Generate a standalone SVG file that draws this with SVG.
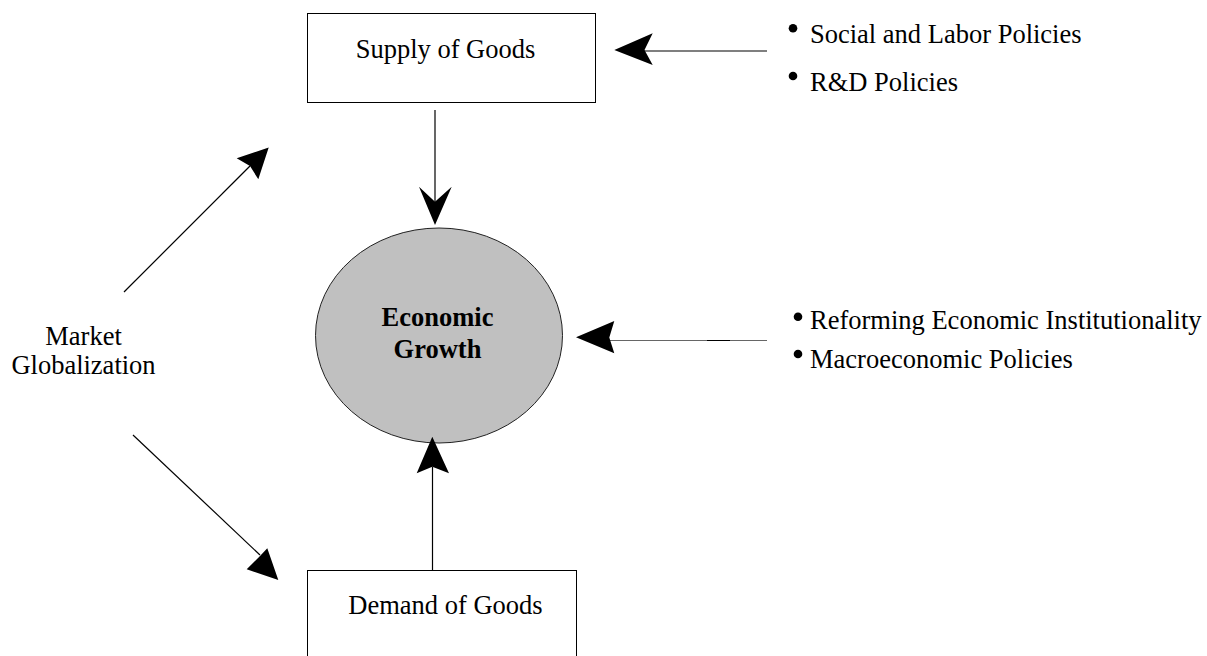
<svg xmlns="http://www.w3.org/2000/svg" width="1207" height="656" viewBox="0 0 1207 656">
<style>
.t{font-family:"Liberation Serif","Times New Roman",serif;font-size:26.5px;fill:#000}
.b{font-weight:bold}
.box{fill:#fff;stroke:#000;stroke-width:1}
.ln{stroke:#000;stroke-width:1.2;fill:none}
.hd{fill:#000;stroke:none}
</style>
<rect width="1207" height="656" fill="#fff"/>
<g id="supply">
<rect class="box" x="307.5" y="13.5" width="288" height="89"/>
<text class="t" x="445.5" y="58" text-anchor="middle">Supply of Goods</text>
</g>
<g id="demand">
<rect class="box" x="307.5" y="570.5" width="269" height="100"/>
<text class="t" x="445.5" y="614" text-anchor="middle">Demand of Goods</text>
</g>
<g id="growth">
<ellipse cx="439" cy="335.5" rx="123.5" ry="107.5" fill="#c0c0c0" stroke="#222" stroke-width="1"/>
<text class="t b" x="437.5" y="326" text-anchor="middle">Economic</text>
<text class="t b" x="437.5" y="357.5" text-anchor="middle">Growth</text>
</g>
<g id="market">
<text class="t" x="83.5" y="345" text-anchor="middle">Market</text>
<text class="t" x="83.5" y="373.5" text-anchor="middle">Globalization</text>
</g>
<g id="policies-top">
<circle cx="793" cy="28.3" r="4.3"/>
<text class="t" x="810" y="43.3">Social and Labor Policies</text>
<circle cx="793" cy="76" r="4.3"/>
<text class="t" x="810" y="90.7">R&amp;D Policies</text>
</g>
<g id="policies-mid">
<circle cx="798" cy="316.7" r="4.3"/>
<text class="t" x="810" y="329.3">Reforming Economic Institutionality</text>
<circle cx="798" cy="354" r="4.3"/>
<text class="t" x="810" y="368.3">Macroeconomic Policies</text>
</g>
<g id="connectors">
<line class="ln" x1="435" y1="110" x2="435" y2="202"/>
<polygon class="hd" points="435,225 419,186.7 435,201.7 451.7,186.7"/>
<line class="ln" x1="432.5" y1="570" x2="432.5" y2="467"/>
<polygon class="hd" points="432.3,436.7 416.7,473.3 432.3,466.7 449,473.3"/>
<line class="ln" x1="767" y1="51" x2="644" y2="51"/>
<polygon class="hd" points="614.3,50 652.7,33.3 644.5,50 652.7,65"/>
<line x1="767" y1="340.5" x2="609" y2="340.5" stroke="#666" stroke-width="1"/>
<line x1="707" y1="340.5" x2="730" y2="340.5" stroke="#000" stroke-width="1"/>
<polygon class="hd" points="576,337.3 614.3,321 609.3,337.5 614.3,353.3"/>
<line class="ln" x1="124" y1="292" x2="250" y2="166"/>
<polygon class="hd" points="268.7,147.6 236.7,158.3 250,166 258.3,179.3"/>
<line class="ln" x1="133" y1="435" x2="260" y2="555"/>
<polygon class="hd" points="278.3,580 246.7,569.3 260,556 267.3,548.3"/>
</g>
</svg>
